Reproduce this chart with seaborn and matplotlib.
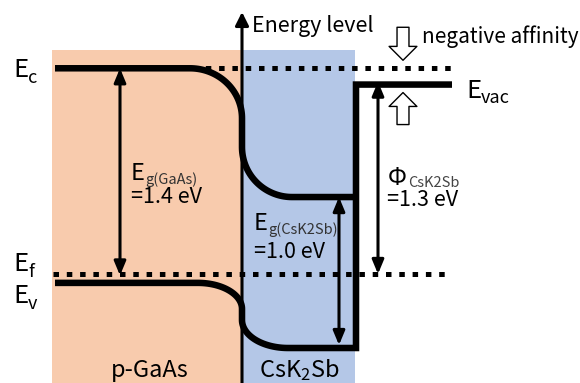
import numpy as np
import pandas as pd
import matplotlib
matplotlib.use("Agg")
import matplotlib.pyplot as plt
import seaborn as sns
from matplotlib.patches import Rectangle

# Band energies relative to the Fermi level (eV)
E_FERMI = 0.0
EC_GAAS = 1.39
EV_GAAS = -0.06
EC_CSK2SB = 0.52
EV_CSK2SB = -0.50
E_VAC = 1.28

# Quantities quoted on the diagram (eV)
EG_GAAS = 1.4
EG_CSK2SB = 1.0
PHI_CSK2SB = 1.3

# Region names
MATERIALS = ["p-GaAs", "CsK$_2$Sb"]

sns.set_theme(style="white")
plt.rcParams["font.family"] = ["Noto Sans CJK JP", "DejaVu Sans"]
plt.rcParams["mathtext.default"] = "regular"

W, H = 580, 383
PX_PER_EV = 148.0
FERMI_ROW = 274          # pixel row of the Fermi level
X_IFACE = 242            # GaAs / CsK2Sb interface

fig = plt.figure(figsize=(W / 100, H / 100), dpi=100)
ax = fig.add_axes([0, 0, 1, 1])
ylim = (-(H - FERMI_ROW) / PX_PER_EV, FERMI_ROW / PX_PER_EV)


def ev(px):
    """vertical pixel distance -> eV"""
    return px / PX_PER_EV


def label(x, row, s, size, **kw):
    kw.setdefault("va", "baseline")
    kw.setdefault("ha", "left")
    kw.setdefault("color", "black")
    fig.text(x / W, 1 - row / H, s, fontsize=size, **kw)


# material regions
region_top = ev(FERMI_ROW - 50)
ax.add_patch(Rectangle((52, ylim[0]), X_IFACE - 52, region_top - ylim[0],
                       fc="#F8CBAD", ec="none", zorder=0))
ax.add_patch(Rectangle((X_IFACE, ylim[0]), 355 - X_IFACE, region_top - ylim[0],
                       fc="#B4C7E7", ec="none", zorder=0))


def bent_band(e_left, e_right, knee_hi, knee_lo, x_bend, x_flat,
              x0=55, x1=357, n=40):
    t = np.linspace(0, np.pi / 2, n)
    xa = x_bend + (X_IFACE - x_bend) * np.sin(t)
    ya = e_left - (e_left - knee_hi) * (1 - np.cos(t))
    xb = X_IFACE + (x_flat - X_IFACE) * (1 - np.cos(t))
    yb = knee_lo - (knee_lo - e_right) * np.sin(t)
    return np.r_[x0, xa, xb, x1], np.r_[e_left, ya, yb, e_right]


xc, ec = bent_band(EC_GAAS, EC_CSK2SB, EC_GAAS - ev(50), EC_CSK2SB + ev(50), 190, 292)
xv, evb = bent_band(EV_GAAS, EV_CSK2SB, EV_GAAS - ev(26), EV_CSK2SB + ev(28), 198, 288, x1=356)
# valence band continues into the surface step and the vacuum level
xv = np.r_[xv, 356, 452]
evb = np.r_[evb, E_VAC, E_VAC]

bands = pd.concat([
    pd.DataFrame({"x": xc, "E": ec, "edge": "conduction"}),
    pd.DataFrame({"x": xv, "E": evb, "edge": "valence"}),
])
sns.lineplot(data=bands, x="x", y="E", units="edge", estimator=None, sort=False,
             color="black", lw=4.7, solid_joinstyle="miter", solid_capstyle="butt",
             zorder=4, ax=ax, legend=False)

# Fermi level and conduction-band reference (dotted)
dots = dict(color="black", lw=3.6, linestyle=(0, (1.1, 1.56)),
            dash_capstyle="butt", zorder=2)
ax.plot([53, 452], [E_FERMI, E_FERMI], **dots)
ax.plot([192, 452], [EC_GAAS, EC_GAAS], **dots)

# energy axis
ax.annotate("", xy=(X_IFACE, ev(FERMI_ROW - 12)), xytext=(X_IFACE, ylim[0]),
            arrowprops=dict(arrowstyle="-|>,head_length=0.8,head_width=0.4",
                            mutation_scale=10, lw=2.2, color="black",
                            shrinkA=0, shrinkB=0), zorder=3)


def double_arrow(x, e_from, e_to):
    ax.annotate("", xy=(x, e_to), xytext=(x, e_from),
                arrowprops=dict(arrowstyle="<|-|>,head_length=0.6,head_width=0.25",
                                mutation_scale=14, lw=2.2, color="black",
                                shrinkA=0, shrinkB=0), zorder=3)


double_arrow(120, EC_GAAS, EC_GAAS - EG_GAAS)
double_arrow(339, EC_CSK2SB, EC_CSK2SB - EG_CSK2SB)
double_arrow(378, E_FERMI, E_FERMI + PHI_CSK2SB)

# hollow arrows marking the negative electron affinity
hollow = dict(arrowstyle="simple,head_length=10,head_width=20,tail_width=8.6",
              mutation_scale=1, fc="white", ec="black", lw=1.0,
              shrinkA=0, shrinkB=0)
ax.annotate("", xy=(403, EC_GAAS + ev(8)), xytext=(403, EC_GAAS + ev(41)),
            arrowprops=hollow, zorder=3)
ax.annotate("", xy=(403, E_VAC - ev(8)), xytext=(403, E_VAC - ev(40)),
            arrowprops=hollow, zorder=3)

ax.set_xlim(0, W)
ax.set_ylim(*ylim)
ax.axis("off")

# level labels
for name, row in [("c", 77), ("f", 271), ("v", 303)]:
    label(13, row, "E", 18.5)
    label(28, row + 6, name, 13)
label(466, 98, "E", 18.5)
label(481, 103, "vac", 13)

label(252, 32, "Energy level", 15.5)
label(422, 43, "negative affinity", 15)

label(131, 180, "E", 17)
label(145, 184, "g(GaAs)", 10.5, color="#333333")
label(131, 203, "=%.1f eV" % EG_GAAS, 15.5)

label(254, 230, "E", 17)
label(268, 234, "g(CsK2Sb)", 10.5, color="#333333")
label(254, 258, "=%.1f eV" % EG_CSK2SB, 15.5)

label(388, 185, "Φ", 17)
label(408, 187, "CsK2Sb", 10.5, color="#444444")
label(387, 206, "=%.1f eV" % PHI_CSK2SB, 15.5)

label(150, 377, MATERIALS[0], 17, ha="center")
label(299, 377, MATERIALS[1], 17, ha="center")

fig.savefig("out.png", dpi=100)
